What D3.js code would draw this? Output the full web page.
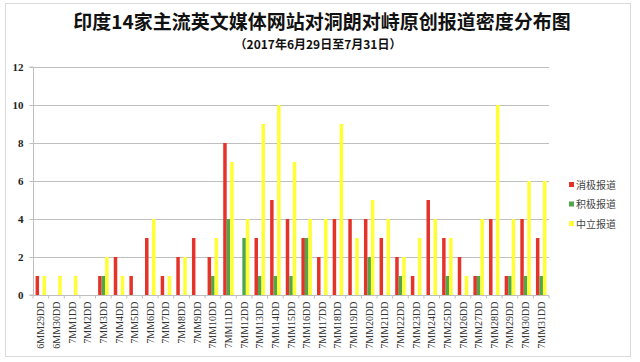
<!DOCTYPE html>
<html><head><meta charset="utf-8">
<script src="https://cdn.jsdelivr.net/npm/d3@7"></script>
<style>body{margin:0;background:#fff}svg{display:block}</style>
</head><body><svg id="c" width="640" height="362"></svg>
<script>
const categories = ["6MM29DD","6MM30DD","7MM1DD","7MM2DD","7MM3DD","7MM4DD","7MM5DD","7MM6DD","7MM7DD","7MM8DD","7MM9DD","7MM10DD","7MM11DD","7MM12DD","7MM13DD","7MM14DD","7MM15DD","7MM16DD","7MM17DD","7MM18DD","7MM19DD","7MM20DD","7MM21DD","7MM22DD","7MM23DD","7MM24DD","7MM25DD","7MM26DD","7MM27DD","7MM28DD","7MM29DD","7MM30DD","7MM31DD"];
const negative = [1,0,0,0,1,2,1,3,1,2,3,2,8,0,3,5,4,3,2,4,4,4,3,2,1,5,3,2,1,4,1,4,3];
const positive = [0,0,0,0,1,0,0,0,0,0,0,1,4,3,1,1,1,3,0,0,0,2,0,1,0,0,1,0,1,0,1,1,1];
const neutral  = [1,1,1,0,2,1,0,4,1,2,0,3,7,4,9,10,7,4,4,9,3,5,4,2,3,4,3,1,4,10,4,6,6];
const seriesNames = ["消极报道","积极报道","中立报道"];
const seriesColors = ["#e5332a","#4fa64b","#ffff33"];
const yTicks = [0,2,4,6,8,10,12];
const title = "印度14家主流英文媒体网站对洞朗对峙原创报道密度分布图";
const subtitle = "（2017年6月29日至7月31日）";

const series = [negative, positive, neutral];
const svg = d3.select("#c");
const cjk = "'Noto Sans CJK SC','Noto Sans',sans-serif";
const serif = "'Liberation Serif','DejaVu Serif',serif";

svg.append("rect").attr("x",5.5).attr("y",3.5).attr("width",625).attr("height",353)
  .attr("fill","#fff").attr("stroke","#d9d9d9");

svg.append("text").attr("x",322).attr("y",29).attr("text-anchor","middle")
  .attr("font-family",cjk).attr("font-weight","bold").attr("font-size",19).attr("fill","#111").text(title);
svg.append("text").attr("x",318).attr("y",49).attr("text-anchor","middle")
  .attr("font-family",cjk).attr("font-weight","bold").attr("font-size",12).attr("fill","#111").text(subtitle);

const pL = 33, pR = 549, pT = 67, pB = 295;
const x = d3.scaleBand().domain(categories).range([pL,pR]).paddingInner(0.33).paddingOuter(0.165);
const xs = d3.scaleBand().domain(d3.range(3)).range([0,x.bandwidth()]);
const y = d3.scaleLinear().domain([0,12]).range([pB,pT]);

// gridlines
svg.append("g").selectAll("line").data(yTicks.filter(d=>d>0)).join("line")
  .attr("x1",pL).attr("x2",pR).attr("y1",d=>Math.round(y(d))+0.5).attr("y2",d=>Math.round(y(d))+0.5)
  .attr("stroke","#bfbfbf").attr("stroke-width",1);

// y axis
const ya = svg.append("g").attr("transform",`translate(${pL+0.5},0)`)
  .call(d3.axisLeft(y).tickValues(yTicks).tickSize(4).tickPadding(6));
ya.select(".domain").attr("stroke","#bfbfbf").attr("d",`M-4,${pT}H0V${pB}H-4`);
ya.selectAll(".tick line").attr("stroke","#bfbfbf");
ya.selectAll(".tick text").attr("font-family",serif).attr("font-weight","bold").attr("font-size",11).attr("fill","#222");

// bars
series.forEach((vals,si)=>{
  svg.append("g").selectAll("rect").data(vals.map((v,i)=>({c:categories[i],v}))).join("rect")
    .attr("x",d=>x(d.c)+xs(si)).attr("width",xs.bandwidth())
    .attr("y",d=>y(d.v)).attr("height",d=>y(0)-y(d.v))
    .attr("fill",seriesColors[si]);
});

// x axis
const step = x.step();
const xa = svg.append("g").attr("transform",`translate(0,${pB+0.5})`);
xa.append("line").attr("x1",pL).attr("x2",pR).attr("stroke","#bfbfbf");
xa.selectAll(".tk").data(d3.range(categories.length+1)).join("line").attr("class","tk")
  .attr("x1",i=>pL+i*step).attr("x2",i=>pL+i*step).attr("y1",0).attr("y2",3).attr("stroke","#bfbfbf");
xa.selectAll(".lb").data(categories).join("text").attr("class","lb")
  .attr("transform",d=>`translate(${x(d)+x.bandwidth()/2+3.5},${6}) rotate(-90)`)
  .attr("text-anchor","end").attr("font-family",serif).attr("font-size",10).attr("fill","#333").text(d=>d);

// legend
const lg = svg.append("g").attr("transform","translate(569,185)");
seriesNames.forEach((n,i)=>{
  const g = lg.append("g").attr("transform",`translate(0,${i*19.5})`);
  g.append("rect").attr("x",0).attr("y",-3).attr("width",5).attr("height",5).attr("fill",seriesColors[i]);
  g.append("text").attr("x",7).attr("y",3.5).attr("font-family",cjk).attr("font-size",10).attr("fill","#444").text(n);
});
</script></body></html>
